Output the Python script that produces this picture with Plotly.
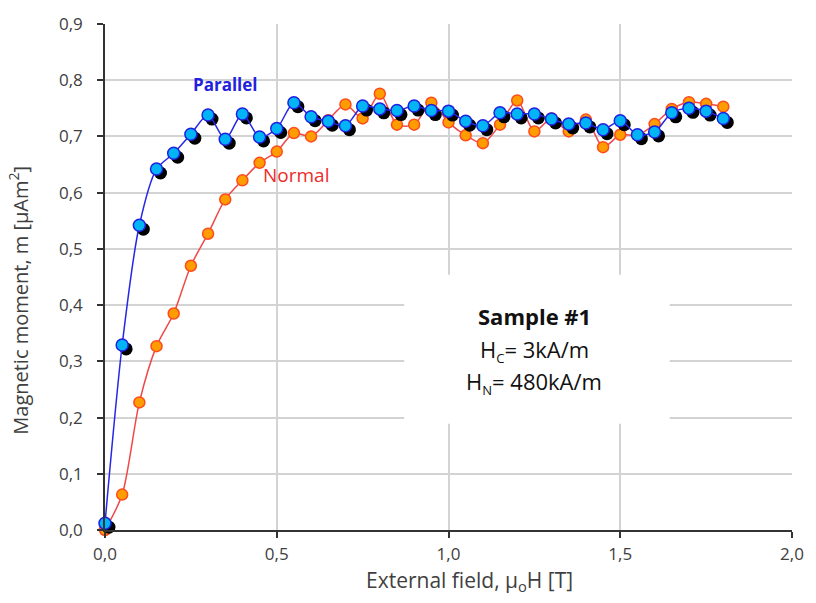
import plotly.graph_objects as go

# Applied field (T)
field = [0.00, 0.05, 0.10, 0.15, 0.20, 0.25, 0.30, 0.35, 0.40, 0.45,
         0.50, 0.55, 0.60, 0.65, 0.70, 0.75, 0.80, 0.85, 0.90, 0.95,
         1.00, 1.05, 1.10, 1.15, 1.20, 1.25, 1.30, 1.35, 1.40, 1.45,
         1.50, 1.55, 1.60, 1.65, 1.70, 1.75, 1.80]

# Magnetic moment (uAm^2), field parallel to the sample plane
parallel = [0.012, 0.329, 0.542, 0.642, 0.670, 0.704, 0.738, 0.695, 0.740, 0.699,
            0.714, 0.760, 0.735, 0.727, 0.719, 0.754, 0.749, 0.746, 0.754, 0.746,
            0.745, 0.727, 0.719, 0.742, 0.740, 0.740, 0.731, 0.722, 0.724, 0.712,
            0.728, 0.703, 0.708, 0.742, 0.750, 0.745, 0.732]

# Magnetic moment (uAm^2), field normal to the sample plane
normal = [0.000, 0.063, 0.227, 0.327, 0.385, 0.470, 0.527, 0.588, 0.622, 0.653,
          0.673, 0.706, 0.700, 0.729, 0.757, 0.732, 0.776, 0.721, 0.721, 0.760,
          0.725, 0.702, 0.688, 0.721, 0.764, 0.709, 0.732, 0.709, 0.730, 0.681,
          0.703, 0.702, 0.722, 0.749, 0.761, 0.758, 0.753]

x_ticks = [0.0, 0.5, 1.0, 1.5, 2.0]
y_ticks = [0.0, 0.1, 0.2, 0.3, 0.4, 0.5, 0.6, 0.7, 0.8, 0.9]

W, H = 816, 603
M = dict(l=105, r=20, t=17, b=73)
X_RANGE = [0.0, 2.0]
Y_RANGE = [0.0, 0.9]

# drop shadow of the parallel markers: same data on shifted overlay axes
plot_w = W - M["l"] - M["r"]
plot_h = H - M["t"] - M["b"]
SHADOW_PX = 4
dx = SHADOW_PX * (X_RANGE[1] - X_RANGE[0]) / plot_w
dy = SHADOW_PX * (Y_RANGE[1] - Y_RANGE[0]) / plot_h

FONT = "Open Sans"
GREY_TXT = "#404040"

fig = go.Figure()

# layer 1: normal series on the main axes
fig.add_trace(go.Scatter(
    x=field, y=normal, mode="lines+markers", name="Normal",
    line=dict(color="#f04848", width=1.5, shape="spline", smoothing=0.8),
    marker=dict(size=11, color="#ff9c00", line=dict(color="#ff4a1e", width=1.5)),
    cliponaxis=False, showlegend=False,
))

# layer 2: shadow under the parallel markers
fig.add_trace(go.Scatter(
    x=field, y=parallel, mode="markers", xaxis="x2", yaxis="y2",
    marker=dict(size=13, color="#000000", line=dict(width=0)),
    cliponaxis=False, showlegend=False, hoverinfo="skip",
))

# layer 3: parallel series on top
fig.add_trace(go.Scatter(
    x=field, y=parallel, mode="lines+markers", name="Parallel", xaxis="x3", yaxis="y3",
    line=dict(color="#2626e6", width=1.5, shape="spline", smoothing=0.8),
    marker=dict(size=12, color="#00b4f5", line=dict(color="#2020e0", width=1.5)),
    cliponaxis=False, showlegend=False,
))

axis_common = dict(
    showline=True, linecolor="#333333", linewidth=1.5,
    ticks="outside", ticklen=6, tickwidth=1.5, tickcolor="#333333",
    showgrid=True, gridcolor="#d3d3d3", gridwidth=2,
    zeroline=False, tickformat=".1f",
    tickfont=dict(family=FONT, size=17, color=GREY_TXT),
)
hidden = dict(visible=False, fixedrange=True, showgrid=False, zeroline=False)

fig.update_layout(
    width=W, height=H, margin=M,
    paper_bgcolor="white", plot_bgcolor="white",
    separators=",.",
    font=dict(family=FONT, color=GREY_TXT),
    xaxis=dict(range=X_RANGE, tickvals=x_ticks, ticklabelstandoff=2, **axis_common),
    yaxis=dict(range=Y_RANGE, tickvals=y_ticks, ticklabelstandoff=11, **axis_common),
    xaxis2=dict(range=[X_RANGE[0] - dx, X_RANGE[1] - dx], overlaying="x", **hidden),
    yaxis2=dict(range=[Y_RANGE[0] + dy, Y_RANGE[1] + dy], overlaying="y", **hidden),
    xaxis3=dict(range=X_RANGE, overlaying="x", **hidden),
    yaxis3=dict(range=Y_RANGE, overlaying="y", **hidden),
)

# white panel holding the sample description
fig.add_shape(type="rect", xref="x", yref="y", x0=0.871, x1=1.644, y0=0.189, y1=0.454,
              fillcolor="white", line=dict(width=0), layer="above")

SUB = "<sub><span style='font-size:13px'>{}</span></sub>"
annotations = [
    dict(text="<b>Sample #1</b>", x=1.25, y=0.381, size=22, color="#111111"),
    dict(text="H" + SUB.format("C") + "= 3kA/m", x=1.25, y=0.320, size=22, color="#111111"),
    dict(text="H" + SUB.format("N") + "= 480kA/m", x=1.25, y=0.263, size=22, color="#111111"),
    dict(text="<b>Parallel</b>", x=0.352, y=0.793, size=17, color="#2222dd"),
    dict(text="Normal", x=0.557, y=0.632, size=19, color="#ee2a2a"),
]
for a in annotations:
    fig.add_annotation(x=a["x"], y=a["y"], xref="x", yref="y", text=a["text"],
                       showarrow=False, xanchor="center", yanchor="middle",
                       font=dict(family=FONT, size=a["size"], color=a["color"]))

fig.add_annotation(text="External field, µ<sub>o</sub>H [T]", xref="paper", yref="paper",
                   x=0.53, y=-0.1, showarrow=False, xanchor="center", yanchor="middle",
                   font=dict(family=FONT, size=21, color=GREY_TXT))
fig.add_annotation(text="Magnetic moment, m [µAm<sup>2</sup>]", xref="paper", yref="paper",
                   x=-0.126, y=0.454, showarrow=False, textangle=-90,
                   xanchor="center", yanchor="middle",
                   font=dict(family=FONT, size=20, color=GREY_TXT))

fig.write_html("out.html")
